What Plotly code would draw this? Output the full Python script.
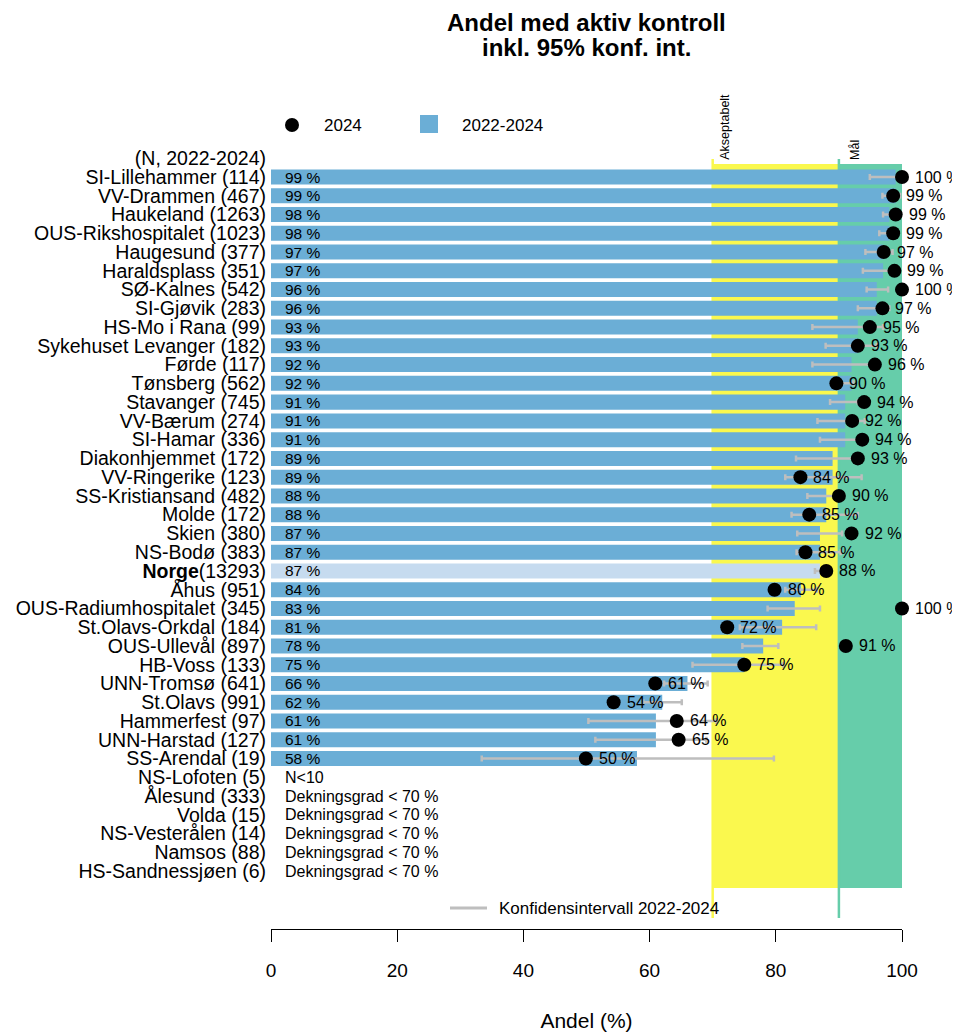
import plotly.graph_objects as go

# ---------------- data ----------------
hospitals = ["SI-Lillehammer", "VV-Drammen", "Haukeland", "OUS-Rikshospitalet", "Haugesund",
             "Haraldsplass", "SØ-Kalnes", "SI-Gjøvik", "HS-Mo i Rana", "Sykehuset Levanger",
             "Førde", "Tønsberg", "Stavanger", "VV-Bærum", "SI-Hamar", "Diakonhjemmet",
             "VV-Ringerike", "SS-Kristiansand", "Molde", "Skien", "NS-Bodø", "Norge", "Åhus",
             "OUS-Radiumhospitalet", "St.Olavs-Orkdal", "OUS-Ullevål", "HB-Voss", "UNN-Tromsø",
             "St.Olavs", "Hammerfest", "UNN-Harstad", "SS-Arendal"]
n_counts = [114, 467, 1263, 1023, 377, 351, 542, 283, 99, 182, 117, 562, 745, 274, 336, 172,
            123, 482, 172, 380, 383, 13293, 951, 345, 184, 897, 133, 641, 991, 97, 127, 19]
share_2022_2024 = [99, 99, 98, 98, 97, 97, 96, 96, 93, 93, 92, 92, 91, 91, 91, 89, 89, 88, 88,
                   87, 87, 87, 84, 83, 81, 78, 75, 66, 62, 61, 61, 58]
share_2024 = [100, 98.6, 99.0, 98.6, 97.1, 98.8, 100, 96.9, 94.9, 93.0, 95.7, 89.6, 94.0, 92.1,
              93.7, 93.0, 83.9, 90.0, 85.3, 92.0, 84.7, 88.0, 79.8, 100, 72.3, 91.1, 75.0, 60.9,
              54.3, 64.3, 64.6, 49.9]
ci_low = [94.9, 96.9, 97.0, 96.4, 94.2, 93.8, 94.4, 93.0, 85.8, 87.9, 85.8, 89.5, 88.6, 86.6,
          87.0, 83.2, 81.5, 85.0, 82.5, 83.4, 83.3, 86.2, 81.5, 78.7, 74.3, 74.7, 66.8, 62.3,
          59.0, 50.3, 51.4, 33.4]
ci_high = [100, 99.7, 99.0, 98.9, 98.5, 98.5, 97.8, 98.0, 97.0, 96.0, 96.0, 92.3, 93.0, 94.1,
           93.5, 93.0, 93.6, 90.8, 93.0, 90.5, 90.3, 87.6, 86.5, 87.0, 86.4, 80.4, 81.2, 69.2,
           65.1, 70.6, 69.0, 79.7]
excluded = ["NS-Lofoten", "Ålesund", "Volda", "NS-Vesterålen", "Namsos", "HS-Sandnessjøen"]
excluded_n = [5, 333, 15, 14, 88, 6]
excluded_reason = ["N<10", "Dekningsgrad < 70 %", "Dekningsgrad < 70 %", "Dekningsgrad < 70 %",
                   "Dekningsgrad < 70 %", "Dekningsgrad < 70 %"]
acceptable_level = 70
target_level = 90
x_ticks = [0, 20, 40, 60, 80, 100]
title_lines = ["Andel med aktiv kontroll", "inkl. 95% konf. int."]

# ---------------- geometry helpers ----------------
FONT = "Liberation Sans, Arial, sans-serif"
OFF = 8                      # page body margin
W, H = 960 - OFF, 1032 - OFF
L, T = 271 - OFF, 60 - OFF
R = W - (902 - OFF)
B = H - (929 - OFF)
PW, PH = W - L - R, H - T - B


def px_x(px):
    return (px - OFF - L) / PW


def px_y(py):
    return (H - B - (py - OFF)) / PH


rows = list(range(1, len(hospitals) + 1))
ex_rows = list(range(len(hospitals) + 1, len(hospitals) + 1 + len(excluded)))

bar_colors = ["#C6DBEF" if h == "Norge" else "#6BAED6" for h in hospitals]

tick_vals = [0] + rows + ex_rows
tick_text = ["(N, 2022-2024)"]
for h, n in zip(hospitals, n_counts):
    tick_text.append(f"<b>{h}</b>({n})" if h == "Norge" else f"{h} ({n})")
for h, n in zip(excluded, excluded_n):
    tick_text.append(f"{h} ({n})")

fig = go.Figure()

fig.add_trace(go.Bar(
    x=share_2022_2024, y=rows, orientation="h", width=0.8,
    marker=dict(color=bar_colors, line=dict(width=0)), showlegend=False, hoverinfo="skip"))

fig.add_trace(go.Scatter(
    x=share_2022_2024, y=rows, mode="markers",
    marker=dict(size=1, color="rgba(0,0,0,0)"),
    error_x=dict(type="data", symmetric=False,
                 array=[hi - b for hi, b in zip(ci_high, share_2022_2024)],
                 arrayminus=[b - lo for lo, b in zip(ci_low, share_2022_2024)],
                 color="#BEBEBE", thickness=2.5, width=3),
    showlegend=False, hoverinfo="skip", cliponaxis=False))

fig.add_trace(go.Scatter(
    x=share_2024, y=rows, mode="markers",
    marker=dict(size=14, color="black"), showlegend=False, cliponaxis=False))

ann = []
# title
for line, py in zip(title_lines, [22, 47]):
    ann.append(dict(x=0.5, y=px_y(py), xref="paper", yref="paper", text=f"<b>{line}</b>",
                    showarrow=False, xanchor="center", yanchor="middle",
                    font=dict(size=24, color="black", family=FONT)))
# bar labels
for r, v in zip(rows, share_2022_2024):
    ann.append(dict(x=0, y=r, xref="x", yref="y", text=f"{v} %", showarrow=False,
                    xanchor="left", yanchor="middle", xshift=12,
                    font=dict(size=15.5, color="black", family=FONT)))
for r, t in zip(ex_rows, excluded_reason):
    ann.append(dict(x=0, y=r, xref="x", yref="y", text=t, showarrow=False,
                    xanchor="left", yanchor="middle", xshift=12,
                    font=dict(size=16, color="black", family=FONT)))
# point labels
for r, v in zip(rows, share_2024):
    ann.append(dict(x=v, y=r, xref="x", yref="y", text=f"{v:.0f} %", showarrow=False,
                    xanchor="left", yanchor="middle", xshift=11,
                    font=dict(size=16, color="black", family=FONT)))
# threshold labels
ann.append(dict(x=acceptable_level, y=0.2, xref="x", yref="y", text="Akseptabelt",
                textangle=-90, showarrow=False, xanchor="left", yanchor="bottom", xshift=3,
                font=dict(size=12.5, color="black", family=FONT)))
ann.append(dict(x=target_level, y=0.2, xref="x", yref="y", text="Mål",
                textangle=-90, showarrow=False, xanchor="left", yanchor="bottom", xshift=7,
                font=dict(size=12.5, color="black", family=FONT)))
# top legend
ann.append(dict(x=px_x(322), y=px_y(125), xref="paper", yref="paper", text="2024",
                showarrow=False, xanchor="left", yanchor="middle",
                font=dict(size=17, color="black", family=FONT)))
ann.append(dict(x=px_x(460), y=px_y(125), xref="paper", yref="paper", text="2022-2024",
                showarrow=False, xanchor="left", yanchor="middle",
                font=dict(size=17, color="black", family=FONT)))
# bottom legend
ann.append(dict(x=px_x(497), y=px_y(908), xref="paper", yref="paper",
                text="Konfidensintervall 2022-2024",
                showarrow=False, xanchor="left", yanchor="middle",
                font=dict(size=17, color="black", family=FONT)))

shapes = []
top_bg = 0.3
bot_bg = 38.9
shapes.append(dict(type="rect", xref="x", yref="y", x0=acceptable_level, x1=target_level,
                   y0=top_bg, y1=bot_bg, fillcolor="#FAF84E", line=dict(width=0), layer="below"))
shapes.append(dict(type="rect", xref="x", yref="y", x0=target_level, x1=100,
                   y0=top_bg, y1=bot_bg, fillcolor="#66CDAA", line=dict(width=0), layer="below"))
shapes.append(dict(type="line", xref="x", yref="y", x0=acceptable_level, x1=acceptable_level,
                   y0=0.04, y1=40.5, line=dict(color="#FAF84E", width=2.5), layer="below"))
shapes.append(dict(type="line", xref="x", yref="y", x0=target_level, x1=target_level,
                   y0=0.04, y1=40.5, line=dict(color="#66CDAA", width=2.5), layer="below"))
# legend glyphs
shapes.append(dict(type="circle", xref="paper", yref="paper", xsizemode="pixel", ysizemode="pixel",
                   xanchor=px_x(292), yanchor=px_y(125), x0=-7, x1=7, y0=-7, y1=7,
                   fillcolor="black", line=dict(width=0)))
shapes.append(dict(type="rect", xref="paper", yref="paper", xsizemode="pixel", ysizemode="pixel",
                   xanchor=px_x(429), yanchor=px_y(124), x0=-9, x1=9, y0=-9, y1=9,
                   fillcolor="#6BAED6", line=dict(width=0)))
shapes.append(dict(type="line", xref="paper", yref="paper", x0=px_x(450), x1=px_x(487),
                   y0=px_y(908), y1=px_y(908), line=dict(color="#BEBEBE", width=3)))

fig.update_layout(
    width=W, height=H,
    margin=dict(l=L, r=R, t=T, b=B, autoexpand=False),
    paper_bgcolor="white", plot_bgcolor="white",
    font=dict(family=FONT, color="black"),
    xaxis=dict(range=[0, 100], tickvals=x_ticks, ticks="outside", ticklen=12, tickwidth=1,
               tickcolor="black", showline=True, linecolor="black", linewidth=1,
               showgrid=False, zeroline=False, tickfont=dict(size=19),
               ticklabelstandoff=12,
               title=dict(text="Andel (%)", font=dict(size=21), standoff=36)),
    yaxis=dict(range=[41.09, -5.24], tickvals=tick_vals, ticktext=tick_text, ticks="",
               showgrid=False, zeroline=False, showline=False, tickfont=dict(size=19.5),
               ticklabelstandoff=4),
    bargap=0.2,
    annotations=ann, shapes=shapes,
    showlegend=False,
)

fig.write_html("out.html")
